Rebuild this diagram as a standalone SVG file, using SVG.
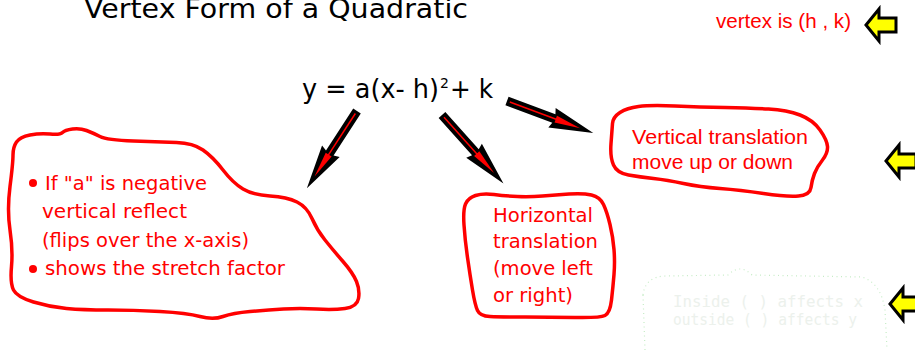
<svg xmlns="http://www.w3.org/2000/svg" xmlns:xlink="http://www.w3.org/1999/xlink" width="915" height="355" viewBox="0 0 915 355">
<style>
.comic{font-family:"DejaVu Sans","Liberation Sans",sans-serif;}
.arial{font-family:"Liberation Sans",Arial,sans-serif;}
.red{fill:#ff0000;}
.blk{fill:#000000;}
.cloud{fill:none;stroke:#ff0000;stroke-width:3.5;stroke-linejoin:round;stroke-linecap:round;}
.faint{fill:none;stroke:#c6ecc6;stroke-width:1.2;stroke-dasharray:1 3.5;}
.fainttxt{fill:#ecf1ec;font-family:"DejaVu Sans Mono","Liberation Mono",monospace;font-size:16px;}
</style>
<defs>
<g id="barrow">
<polygon points="0,-4.5 50,-4.5 48,-10.5 92,0 48,10.5 50,4.5 0,4.5" fill="#000"/>
<line x1="3" y1="0" x2="56" y2="0" stroke="#ff0000" stroke-width="1.5"/>
<polygon points="52,-3.5 78,0 52,3.5" fill="#ff0000"/>
</g>
<polygon id="yarrow" points="0,0 13,-16 13,-7 30,-7 30,7 13,7 13,16" fill="#ffff00" stroke="#000" stroke-width="3" stroke-linejoin="miter"/>
</defs>

<g id="title">
<text class="comic blk" x="84" y="18" font-size="27" textLength="384" lengthAdjust="spacingAndGlyphs">Vertex Form of a Quadratic</text>
</g>

<g id="vertex-label">
<text class="arial red" x="716" y="28" font-size="20.5" textLength="135" lengthAdjust="spacingAndGlyphs">vertex is (h , k)</text>
</g>

<g id="equation">
<text class="comic blk" x="302" y="98" font-size="26" textLength="137" lengthAdjust="spacingAndGlyphs">y = a(x- h)</text>
<text class="comic blk" x="440" y="88" font-size="14">2</text>
<text class="comic blk" x="450" y="98" font-size="26" textLength="43" lengthAdjust="spacingAndGlyphs">+ k</text>
</g>

<g id="connectors">
<use xlink:href="#barrow" href="#barrow" transform="translate(357,111) rotate(123)"/>
<use xlink:href="#barrow" href="#barrow" transform="translate(442,115) rotate(48.1)"/>
<use xlink:href="#barrow" href="#barrow" transform="translate(507,101) rotate(20.4)"/>
</g>

<g id="node-a">
<path class="cloud" d="M10,186.5 Q13,163 13,155 Q13,147 16.5,142 Q20,137 30,135 Q40,133 50,134 Q60,135 62.5,132.5 Q65,130 72.5,129 Q80,128 86.5,130.5 Q93,133 100,136.5 Q107,140 133.5,141 Q160,142 176.5,142.5 Q193,143 203,150 Q213,157 223,170 Q233,183 243,189 Q253,195 270,196 Q287,197 297,202 Q307,207 312,218.5 Q317,230 325,240 Q333,250 343,261.5 Q353,273 356.5,281.5 Q360,290 358.5,298.5 Q357,307 345,308.5 Q333,310 316.5,309 Q300,308 283.5,309 Q267,310 250,311.5 Q233,313 223,316.5 Q213,320 200,316.5 Q187,313 160,311.5 Q133,310 108,310 Q83,310 66.5,308.5 Q50,307 33.5,302 Q17,297 13.5,290 Q10,283 11.5,266.5 Q13,250 10,230 Q7,210 10,186.5 Z"/>
<circle class="red" cx="33" cy="183" r="4"/>
<circle class="red" cx="33" cy="269" r="4"/>
<text class="comic red" font-size="19">
<tspan x="45" y="190" textLength="162" lengthAdjust="spacingAndGlyphs">If "a" is negative</tspan>
<tspan x="42" y="218" textLength="145" lengthAdjust="spacingAndGlyphs">vertical reflect</tspan>
<tspan x="42" y="247" textLength="207" lengthAdjust="spacingAndGlyphs">(flips over the x-axis)</tspan>
<tspan x="45" y="275" textLength="240" lengthAdjust="spacingAndGlyphs">shows the stretch factor</tspan>
</text>
</g>

<g id="node-h">
<path class="cloud" d="M467.5,257.5 Q465,240 464,225 Q463,210 465.5,204 Q468,198 475.5,195.5 Q483,193 494,194.5 Q505,196 517.5,196.5 Q530,197 542.5,196 Q555,195 569,194 Q583,193 591.5,195 Q600,197 603.5,204.5 Q607,212 610,224.5 Q613,237 614,249.5 Q615,262 614,274.5 Q613,287 611.5,300 Q610,313 605,315.5 Q600,318 575,317.5 Q550,317 525,317 Q500,317 490,316.5 Q480,316 477.5,310.5 Q475,305 472.5,290 Q470,275 467.5,257.5 Z"/>
<text class="comic red" font-size="19">
<tspan x="493" y="222" textLength="100" lengthAdjust="spacingAndGlyphs">Horizontal</tspan>
<tspan x="493" y="248" textLength="105" lengthAdjust="spacingAndGlyphs">translation</tspan>
<tspan x="493" y="275" textLength="100" lengthAdjust="spacingAndGlyphs">(move left</tspan>
<tspan x="493" y="302" textLength="80" lengthAdjust="spacingAndGlyphs">or right)</tspan>
</text>
</g>

<g id="node-k">
<path class="cloud" d="M611,143.5 Q612,130 612.5,123.5 Q613,117 620,112.5 Q627,108 638.5,106.5 Q650,105 675,106 Q700,107 725,107.5 Q750,108 768.5,109 Q787,110 800,115 Q813,120 820,130 Q827,140 827.5,146.5 Q828,153 822.5,160 Q817,167 814.5,173.5 Q812,180 811,187.5 Q810,195 798.5,196 Q787,197 763.5,193.5 Q740,190 720,188.5 Q700,187 683.5,183.5 Q667,180 653.5,178.5 Q640,177 628.5,175 Q617,173 613.5,165 Q610,157 611,143.5 Z"/>
<text class="arial red" font-size="21">
<tspan x="632" y="144" textLength="176" lengthAdjust="spacingAndGlyphs">Vertical translation</tspan>
<tspan x="632" y="169" textLength="161" lengthAdjust="spacingAndGlyphs">move up or down</tspan>
</text>
</g>

<g id="node-faint">
<path class="faint" d="M643,295 Q645,277 665,276 L728,275 Q740,263 752,275 L862,277 Q881,283 885,310 L887,350 M643,295 L645,350"/>
<text class="fainttxt">
<tspan x="673" y="307" textLength="190" lengthAdjust="spacingAndGlyphs">Inside ( ) affects x</tspan>
<tspan x="673" y="325" textLength="184" lengthAdjust="spacingAndGlyphs">outside ( ) affects y</tspan>
</text>
</g>

<g id="pointer-1"><use xlink:href="#yarrow" href="#yarrow" transform="translate(866,25)"/></g>
<g id="pointer-2"><use xlink:href="#yarrow" href="#yarrow" transform="translate(886,161)"/></g>
<g id="pointer-3"><use xlink:href="#yarrow" href="#yarrow" transform="translate(890,304)"/></g>
</svg>
